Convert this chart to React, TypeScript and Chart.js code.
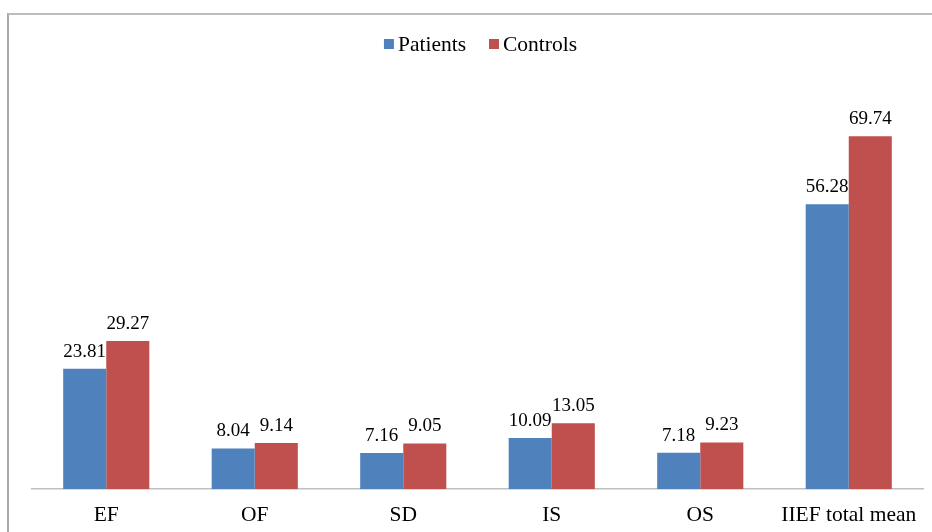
import React, { useEffect, useRef } from "react";
import { Chart, registerables } from "chart.js";

Chart.register(...registerables);

const categories = ["EF", "OF", "SD", "IS", "OS", "IIEF total mean"];
const patients = [23.81, 8.04, 7.16, 10.09, 7.18, 56.28];
const controls = [29.27, 9.14, 9.05, 13.05, 9.23, 69.74];
const seriesNames = ["Patients", "Controls"];
const seriesColors = ["#4F81BD", "#C0504D"];

const FONT = "'Liberation Serif', 'Times New Roman', serif";

const valueLabels = {
  id: "valueLabels",
  afterDatasetsDraw(chart: any) {
    const ctx = chart.ctx;
    ctx.save();
    ctx.font = `19px ${FONT}`;
    ctx.fillStyle = "#000";
    ctx.textAlign = "center";
    ctx.textBaseline = "alphabetic";
    chart.data.datasets.forEach((ds: any, i: number) => {
      const meta = chart.getDatasetMeta(i);
      meta.data.forEach((el: any, j: number) => {
        ctx.fillText(Number(ds.data[j]).toFixed(2), el.x, el.y - 12);
      });
    });
    ctx.restore();
  },
};

const customLegend = {
  id: "customLegend",
  afterDraw(chart: any) {
    const ctx = chart.ctx;
    ctx.save();
    ctx.font = `21.5px ${FONT}`;
    ctx.textBaseline = "middle";
    ctx.textAlign = "left";
    const box = 10;
    const gapBoxText = 4;
    const gapItems = 23;
    const items = chart.data.datasets.map((ds: any) => ({
      label: ds.label,
      color: ds.backgroundColor,
      w: ctx.measureText(ds.label).width,
    }));
    const total =
      items.reduce((s: number, it: any) => s + box + gapBoxText + it.w, 0) +
      gapItems * (items.length - 1);
    let x = (chart.chartArea.left + chart.chartArea.right) / 2 - total / 2 + 3;
    const y = 44;
    items.forEach((it: any) => {
      ctx.fillStyle = it.color;
      ctx.fillRect(x, y - box / 2, box, box);
      x += box + gapBoxText;
      ctx.fillStyle = "#000";
      ctx.fillText(it.label, x, y + 1);
      x += it.w + gapItems;
    });
    ctx.restore();
  },
};

export default function App() {
  const ref = useRef<HTMLCanvasElement>(null);
  useEffect(() => {
    const chart = new Chart(ref.current!, {
      type: "bar",
      data: {
        labels: categories,
        datasets: [
          {
            label: seriesNames[0],
            data: patients,
            backgroundColor: seriesColors[0],
          },
          {
            label: seriesNames[1],
            data: controls,
            backgroundColor: seriesColors[1],
          },
        ],
      },
      options: {
        responsive: false,
        animation: false,
        devicePixelRatio: 1,
        layout: { padding: { left: 32, right: 9, top: 66, bottom: 1 } },
        datasets: {
          bar: { barPercentage: 1, categoryPercentage: 0.58 },
        } as any,
        plugins: {
          legend: { display: false },
          tooltip: { enabled: false },
        },
        scales: {
          x: {
            grid: { display: false },
            border: { display: true, color: "#bfbfbf", width: 1.5 },
            ticks: {
              font: { family: FONT, size: 21.5 },
              color: "#000",
              maxRotation: 0,
              autoSkip: false,
              padding: 5,
            },
          },
          y: {
            display: false,
            min: 0,
            max: 83.6,
          },
        },
      },
      plugins: [valueLabels, customLegend],
    });
    return () => chart.destroy();
  }, []);
  return (
    <div style={{ position: "absolute", left: 0, top: 0, width: 932, height: 532, background: "#fff", overflow: "hidden" }}>
      <div
        style={{
          position: "absolute",
          left: 7,
          top: 13,
          width: 1000,
          height: 1000,
          borderTop: "2px solid #bdbdbd",
          borderLeft: "2px solid #a8a8a8",
        }}
      />
      <canvas ref={ref} width={932} height={534} style={{ position: "absolute", left: 0, top: 0 }} />
    </div>
  );
}
